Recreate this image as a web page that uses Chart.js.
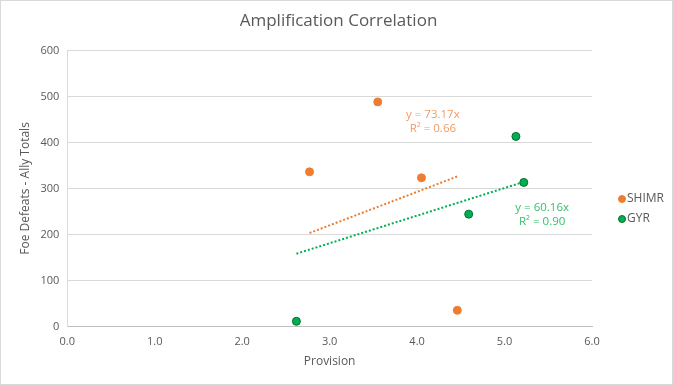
<!DOCTYPE html>
<html lang="en">
<head>
    <meta charset="UTF-8">
    <title>Amplification Correlation</title>
    <script src="https://cdn.jsdelivr.net/npm/chart.js"></script>
    <style>
        html, body { margin: 0; padding: 0; background: #fff; }
        .frame { position: relative; width: 671px; height: 383px; border: 1px solid #d9d9d9; }
        canvas { display: block; }
    </style>
</head>
<body>
    <div class="frame">
        <canvas id="chart" width="671" height="383"></canvas>
    </div>
    <script>
        // values
        const shimrX = [2.77, 3.55, 4.05, 4.46];
        const shimrY = [336, 488, 323, 35];
        const gyrX = [2.62, 4.59, 5.13, 5.22];
        const gyrY = [11, 244, 413, 313];
        // trendline end points (x = first/last point, y = fitted value)
        const shimrTrendX = [2.77, 4.46];
        const shimrTrendY = [203, 326];
        const gyrTrendX = [2.62, 5.22];
        const gyrTrendY = [158, 314];
        const shimrLabel = ['y = 73.17x', 'R² = 0.66'];
        const gyrLabel = ['y = 60.16x', 'R² = 0.90'];
        const seriesNames = ['SHIMR', 'GYR'];
        const xTicks = [0, 1, 2, 3, 4, 5, 6];
        const yTicks = [0, 100, 200, 300, 400, 500, 600];

        const orange = '#ED7D31';
        const green = '#00B050';
        const textGrey = '#595959';
        const font = "'Open Sans', 'Liberation Sans', sans-serif";

        const pts = (xs, ys) => xs.map((x, i) => ({ x: x, y: ys[i] }));

        // trendline equations, anchored in data space
        const trendLabels = {
            id: 'trendLabels',
            afterDatasetsDraw(chart, args, opts) {
                const { ctx, scales } = chart;
                ctx.save();
                ctx.font = '11.5px ' + font;
                ctx.textAlign = 'center';
                ctx.textBaseline = 'middle';
                opts.items.forEach(item => {
                    const px = scales.x.getPixelForValue(item.x);
                    const py = scales.y.getPixelForValue(item.y);
                    ctx.fillStyle = item.color;
                    item.lines.forEach((t, i) => ctx.fillText(t, px, py + (i - 0.5) * 14));
                });
                ctx.restore();
            }
        };

        // legend to the right of the plot, like the spreadsheet one
        const sideLegend = {
            id: 'sideLegend',
            afterDraw(chart, args, opts) {
                const { ctx, chartArea } = chart;
                ctx.save();
                ctx.font = '12px ' + font;
                ctx.textBaseline = 'middle';
                ctx.textAlign = 'left';
                seriesNames.forEach((name, i) => {
                    const ds = chart.data.datasets[i];
                    const cx = chartArea.right + opts.offsetX;
                    const cy = opts.top + i * opts.rowHeight;
                    ctx.beginPath();
                    ctx.arc(cx, cy, 3.5, 0, Math.PI * 2);
                    ctx.fillStyle = ds.backgroundColor;
                    ctx.fill();
                    ctx.lineWidth = 1;
                    ctx.strokeStyle = ds.borderColor;
                    ctx.stroke();
                    ctx.fillStyle = textGrey;
                    ctx.fillText(name, cx + 5, cy);
                });
                ctx.restore();
            }
        };

        new Chart(document.getElementById('chart').getContext('2d'), {
            type: 'scatter',
            data: {
                datasets: [
                    {
                        label: seriesNames[0],
                        data: pts(shimrX, shimrY),
                        backgroundColor: orange,
                        borderColor: orange,
                        pointRadius: 4,
                        borderWidth: 1,
                    },
                    {
                        label: seriesNames[1],
                        data: pts(gyrX, gyrY),
                        backgroundColor: green,
                        borderColor: '#0B6B32',
                        pointRadius: 4,
                        borderWidth: 1,
                    },
                    {
                        label: 'trend-shimr',
                        data: pts(shimrTrendX, shimrTrendY),
                        showLine: true,
                        borderColor: orange,
                        borderWidth: 2,
                        borderDash: [2, 2],
                        pointRadius: 0,
                    },
                    {
                        label: 'trend-gyr',
                        data: pts(gyrTrendX, gyrTrendY),
                        showLine: true,
                        borderColor: green,
                        borderWidth: 2,
                        borderDash: [2, 2],
                        pointRadius: 0,
                    }
                ]
            },
            options: {
                responsive: false,
                animation: false,
                layout: { padding: { left: 17, right: 13, top: 4, bottom: 15 } },
                plugins: {
                    title: {
                        display: true,
                        text: 'Amplification Correlation',
                        color: textGrey,
                        font: { family: font, size: 17, weight: 'normal' },
                        padding: { top: 6, bottom: 19 }
                    },
                    legend: { display: false },
                    tooltip: { enabled: false },
                    sideLegend: { offsetX: 30, top: 198, rowHeight: 20 },
                    trendLabels: {
                        items: [
                            { x: 4.18, y: 444, color: '#F29B63', lines: shimrLabel },
                            { x: 5.43, y: 243, color: '#35C06A', lines: gyrLabel }
                        ]
                    }
                },
                scales: {
                    x: {
                        type: 'linear',
                        min: 0,
                        max: 6,
                        afterBuildTicks: axis => { axis.ticks = xTicks.map(v => ({ value: v })); },
                        ticks: {
                            color: textGrey,
                            font: { family: font, size: 11 },
                            padding: 1,
                            callback: v => v.toFixed(1)
                        },
                        grid: { display: false },
                        border: { display: true, color: '#BFBFBF', width: 1 },
                        title: {
                            display: true,
                            text: 'Provision',
                            color: textGrey,
                            font: { family: font, size: 12 },
                            padding: { top: 5, bottom: 0 }
                        }
                    },
                    y: {
                        min: 0,
                        max: 600,
                        afterBuildTicks: axis => { axis.ticks = yTicks.map(v => ({ value: v })); },
                        ticks: {
                            color: textGrey,
                            font: { family: font, size: 11 },
                            padding: 8
                        },
                        grid: { color: '#D9D9D9', drawTicks: false },
                        border: { display: true, color: '#D9D9D9' },
                        title: {
                            display: true,
                            text: 'Foe Defeats - Ally Totals',
                            color: textGrey,
                            font: { family: font, size: 12 },
                            padding: { top: 0, bottom: 0 }
                        }
                    },
                    // empty axis that only keeps room for the legend
                    legendRoom: {
                        type: 'linear',
                        position: 'right',
                        display: true,
                        grid: { display: false },
                        border: { display: false },
                        ticks: { display: false },
                        afterFit: s => { s.width = 67; }
                    }
                }
            },
            plugins: [trendLabels, sideLegend]
        });
    </script>
</body>
</html>
